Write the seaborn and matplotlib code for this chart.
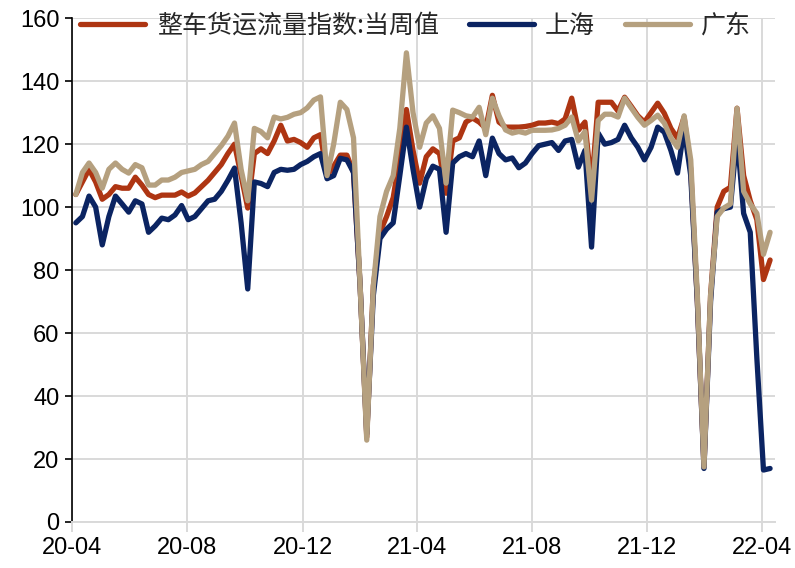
#!/usr/bin/env python3
"""Weekly truckload freight flow index: national, Shanghai and Guangdong."""

import matplotlib

matplotlib.use("Agg")

import matplotlib.dates as mdates
import matplotlib.pyplot as plt
import pandas as pd
import seaborn as sns

WEEKS = pd.date_range("2020-04-05", periods=106, freq="7D")

NATIONAL = [
    104, 108, 112, 108, 102.5, 104, 106.5, 106, 106, 109.5,
    107, 104, 103, 103.8, 103.8, 103.8, 104.8, 103.5, 104.5, 106.5,
    108.5, 111, 113.5, 117, 120, 110, 99.7, 117, 118.5, 117,
    121, 126, 121, 121.5, 120.5, 119, 122, 123, 110, 113,
    116.5, 116.5, 111, 75, 27, 75, 92, 97, 103, 116,
    131, 118, 107.6, 116, 118.5, 117, 104.4, 121, 122, 127,
    128.3, 127, 125, 135.5, 127, 125.4, 125.4, 125.4, 125.6, 126,
    126.7, 126.7, 127, 126.5, 128, 134.6, 124.4, 127, 106.3, 133.3,
    133.3, 133.3, 130.5, 134.9, 132, 129, 127, 130, 133, 129.8,
    125, 121.9, 128.6, 112, 70, 17.5, 72, 100, 105, 106.3,
    131.4, 110, 102, 96, 77, 83.2,
]
SHANGHAI = [
    95, 97, 103.5, 100, 88, 97, 103.5, 101, 98.4, 102,
    101, 92, 94, 96.5, 96, 97.5, 100.5, 96, 97, 99.5,
    102, 102.5, 105, 108.5, 112.4, 95, 74, 108, 107.5, 106.5,
    111, 112, 111.7, 112, 113.5, 114.5, 116, 117, 109, 110,
    115.5, 115, 111, 75, 28, 72, 90, 93, 95, 110,
    125.4, 112, 100, 109, 113, 112, 92, 114, 116, 117,
    116, 121, 110, 121.9, 117, 115, 115.6, 112.5, 114, 117,
    119.5, 120, 120.5, 118, 121, 121.5, 112.7, 118, 87.3, 123.5,
    120, 120.5, 121.5, 126, 122, 119, 115, 119, 125.4, 123.8,
    118, 110.8, 125, 110, 70, 17, 70, 98.4, 99.5, 100,
    122.9, 98, 92, 52, 16.5, 17,
]
GUANGDONG = [
    104, 111, 114, 111, 106, 112, 114, 112, 110.8, 113.5,
    112.5, 107, 107, 108.6, 108.6, 109.5, 111, 111.5, 112, 113.5,
    114.5, 117, 119.5, 122.5, 126.7, 112, 102, 125, 124, 122,
    128.6, 128, 128.5, 129.5, 130, 131.5, 134, 135, 110, 120,
    133.3, 131, 122, 75, 26, 75, 97, 105, 110, 125,
    149, 130, 119, 126.7, 129, 125, 107.6, 130.8, 130, 129,
    128.6, 131.7, 123, 134.6, 129, 124.5, 123.5, 124, 123.5, 124.4,
    124.4, 124.4, 124.5, 125, 126, 128.6, 121, 124, 102.2, 127.5,
    129.5, 129.5, 128.6, 134.6, 131.5, 128.5, 126, 127.5, 129.2, 126.7,
    122, 119, 129, 115, 72, 17.5, 72, 97, 99.7, 101,
    131.4, 105, 101, 98, 85, 92,
]

SERIES = ["整车货运流量指数:当周值", "上海", "广东"]
COLORS = ["#AE3512", "#0B2462", "#B5A07F"]
Y_TICKS = [0, 20, 40, 60, 80, 100, 120, 140, 160]


def build_frame() -> pd.DataFrame:
    parts = []
    for name, values in zip(SERIES, [NATIONAL, SHANGHAI, GUANGDONG]):
        parts.append(pd.DataFrame({"week": WEEKS, "value": values, "series": name}))
    return pd.concat(parts, ignore_index=True)


def main() -> None:
    sns.set_theme(style="whitegrid")
    plt.rcParams["font.family"] = ["Liberation Sans", "DejaVu Sans"]

    frame = build_frame()
    fig = plt.figure(figsize=(7.95, 5.68), dpi=100)
    ax = fig.add_axes([0.0906, 0.081, 0.884, 0.887])

    sns.lineplot(
        data=frame,
        x="week",
        y="value",
        hue="series",
        hue_order=SERIES,
        palette=COLORS,
        linewidth=3.8,
        solid_joinstyle="round",
        solid_capstyle="round",
        ax=ax,
    )

    ax.set_ylim(0, 160)
    ax.set_yticks(Y_TICKS)
    ax.set_xlim(pd.Timestamp("2020-04-01"), pd.Timestamp("2022-04-15"))
    ax.xaxis.set_major_locator(mdates.MonthLocator(bymonth=[4, 8, 12]))
    ax.xaxis.set_major_formatter(mdates.DateFormatter("%y-%m"))
    ax.set_xlabel("")
    ax.set_ylabel("")

    ax.grid(True, color="#D9D9D9", linewidth=1.4)
    for side in ["top", "right"]:
        ax.spines[side].set_visible(False)
    ax.spines["left"].set_color("black")
    ax.spines["left"].set_linewidth(1.2)
    ax.spines["bottom"].set_color("#D9D9D9")
    ax.spines["bottom"].set_linewidth(1.4)
    ax.tick_params(axis="y", left=True, length=5, width=1.2, color="black",
                   labelsize=17, pad=4, labelcolor="black")
    ax.tick_params(axis="x", bottom=True, length=7, width=1.4, color="#D9D9D9",
                   labelsize=17, pad=4, labelcolor="black")

    handles, labels = ax.get_legend_handles_labels()
    ax.legend(
        handles,
        labels,
        loc="center left",
        bbox_to_anchor=(0.012, 0.985),
        ncol=3,
        frameon=False,
        borderaxespad=0,
        borderpad=0,
        handlelength=2.6,
        handletextpad=0.45,
        columnspacing=1.2,
        prop={"family": ["Noto Sans CJK SC", "DejaVu Sans"], "size": 18},
    )

    fig.savefig("out.png", dpi=100)
    plt.close(fig)


if __name__ == "__main__":
    main()
